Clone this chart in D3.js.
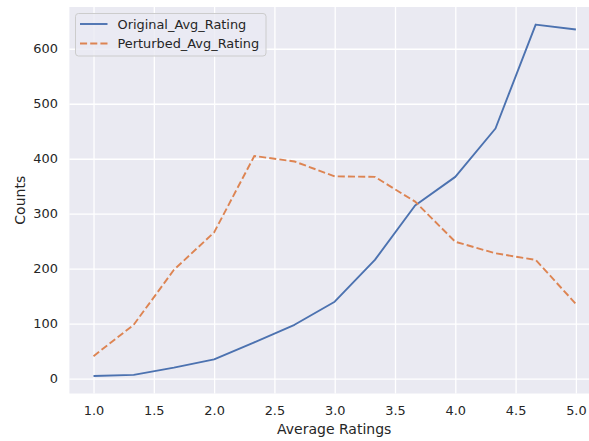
<!DOCTYPE html>
<html><head><meta charset="utf-8">
<script src="https://cdn.jsdelivr.net/npm/d3@7"></script>
<style>body{margin:0;background:#fff}svg{display:block}text{font-family:"DejaVu Sans",sans-serif;fill:#262626}</style>
</head><body>
<svg id="c" width="589" height="441"></svg>
<script>
const ratings = [1.0, 4/3, 5/3, 2.0, 7/3, 8/3, 3.0, 10/3, 11/3, 4.0, 13/3, 14/3, 5.0];
const originalAvg = [5, 7, 20, 35, 66, 98, 140, 216, 315, 367, 455, 644, 635];
const perturbedAvg = [41, 98, 198, 266, 405, 395, 368, 367, 322, 249, 228, 216, 136];
const xTicks = [1.0, 1.5, 2.0, 2.5, 3.0, 3.5, 4.0, 4.5, 5.0];
const yTicks = [0, 100, 200, 300, 400, 500, 600];
const seriesNames = ["Original_Avg_Rating", "Perturbed_Avg_Rating"];

const svg = d3.select("#c");
const L = 69.4, R = 600, T = 7, B = 393.5;
const x = d3.scaleLinear().domain([0.8, 5.2]).range([L, R]);
const all = originalAvg.concat(perturbedAvg);
const mn = d3.min(all), mx = d3.max(all), pad = (mx - mn) * 0.05;
const y = d3.scaleLinear().domain([mn - pad, mx + pad]).range([B, T]);

svg.append("rect").attr("x", L).attr("y", T).attr("width", R - L).attr("height", B - T).attr("fill", "#eaeaf2");

const gx = svg.append("g").attr("transform", `translate(0,${B})`)
  .call(d3.axisBottom(x).tickValues(xTicks).tickFormat(d3.format(".1f")).tickSize(-(B - T)).tickPadding(12));
const gy = svg.append("g").attr("transform", `translate(${L},0)`)
  .call(d3.axisLeft(y).tickValues(yTicks).tickFormat(d3.format("d")).tickSize(-(R - L)).tickPadding(11.5));
[gx, gy].forEach(g => {
  g.select(".domain").remove();
  g.selectAll(".tick line").attr("stroke", "#ffffff").attr("stroke-width", 1.3);
  g.selectAll(".tick text").attr("font-size", "12.9px").attr("fill", "#262626");
});

const line = d3.line().x((d, i) => x(ratings[i])).y(d => y(d));
svg.append("path").datum(originalAvg).attr("d", line).attr("fill", "none")
  .attr("stroke", "#4c72b0").attr("stroke-width", 1.9).attr("stroke-linejoin", "round");
svg.append("path").datum(perturbedAvg).attr("d", line).attr("fill", "none")
  .attr("stroke", "#dd8452").attr("stroke-width", 1.9).attr("stroke-dasharray", "7.1,3.1");

svg.append("text").attr("x", (L + R) / 2 - 0.5).attr("y", 433.5).attr("text-anchor", "middle")
  .attr("font-size", "14px").text("Average Ratings");
svg.append("text").attr("transform", `translate(25,${(T + B) / 2}) rotate(-90)`).attr("text-anchor", "middle")
  .attr("font-size", "14px").text("Counts");

const lg = svg.append("g");
lg.append("rect").attr("x", 75.5).attr("y", 13.5).attr("width", 190.5).attr("height", 42.5).attr("rx", 3)
  .attr("fill", "#eaeaf2").attr("fill-opacity", 0.8).attr("stroke", "#cccccc").attr("stroke-width", 1);
const colors = ["#4c72b0", "#dd8452"], dashes = [null, "7.1,3.1"];
seriesNames.forEach((n, i) => {
  const yy = 24 + i * 19.5;
  lg.append("line").attr("x1", 80).attr("x2", 107.5).attr("y1", yy).attr("y2", yy)
    .attr("stroke", colors[i]).attr("stroke-width", 1.9).attr("stroke-dasharray", dashes[i]);
  lg.append("text").attr("x", 117.5).attr("y", yy + 4.6).attr("font-size", "12.9px").text(n);
});
</script>
</body></html>
